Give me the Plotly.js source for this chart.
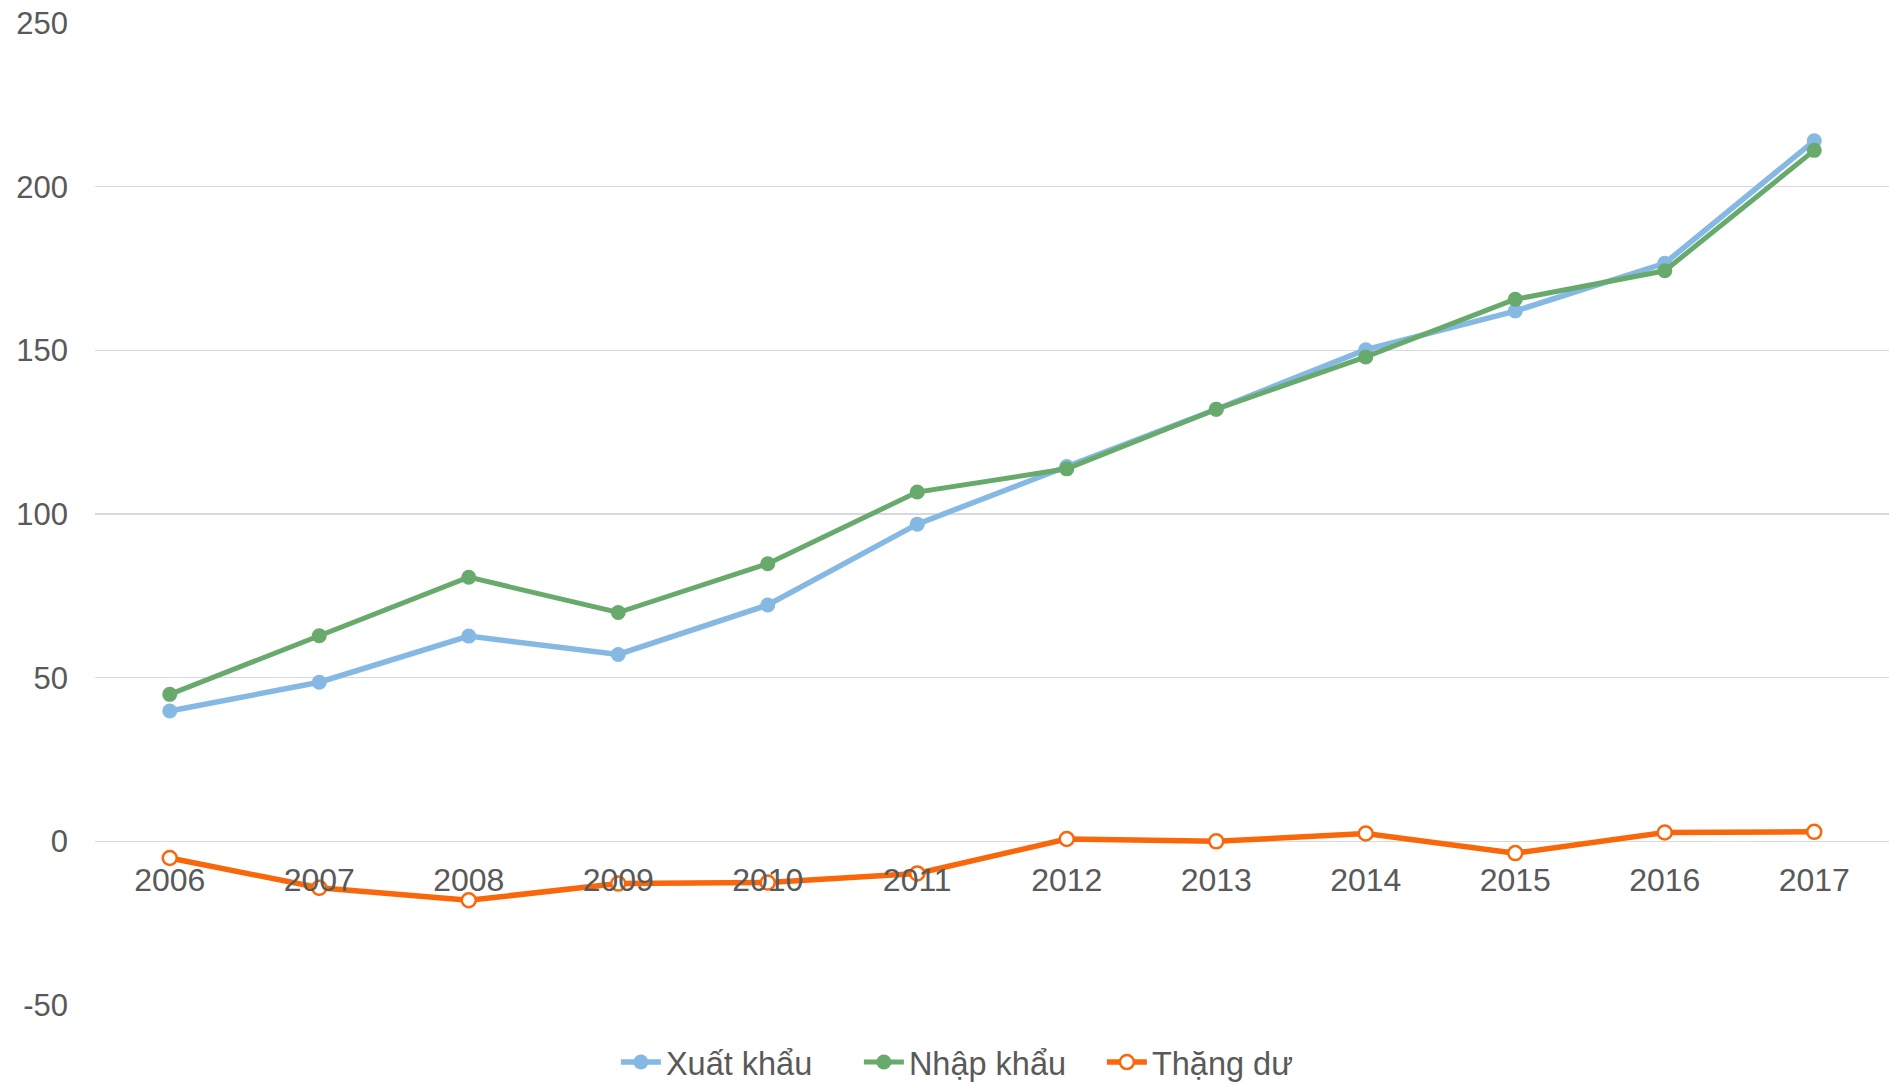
<!DOCTYPE html>
<html>
<head>
<meta charset="utf-8">
<script src="https://cdn.plot.ly/plotly-3.0.1.min.js"></script>
<style>html,body{margin:0;padding:0;background:#fff;}#chart{width:1889px;height:1083px;}</style>
</head>
<body>
<div id="chart"></div>
<script>
const years = ['2006','2007','2008','2009','2010','2011','2012','2013','2014','2015','2016','2017'];
const xuatKhau = [39.8, 48.6, 62.7, 57.1, 72.2, 96.9, 114.5, 132.0, 150.2, 162.0, 176.6, 214.0];
const nhapKhau = [44.9, 62.8, 80.7, 69.9, 84.8, 106.7, 113.8, 132.0, 148.0, 165.6, 174.3, 211.1];
const thangDu = [-5.1, -14.2, -18.0, -12.9, -12.6, -9.8, 0.7, 0.0, 2.4, -3.6, 2.7, 2.9];
const seriesNames = ['Xuất khẩu', 'Nhập khẩu', 'Thặng dư'];
const yTicks = [-50, 0, 50, 100, 150, 200, 250];
const yTickText = ['-50', '0', '50', '100', '150', '200', '250'];

const FONT = 'Liberation Sans, Arial, sans-serif';
const TXT = '#595959';

const traces = [
  {x: years, y: xuatKhau, name: seriesNames[0], type: 'scatter', mode: 'lines+markers',
   line: {color: '#85B9E3', width: 5.5}, marker: {color: '#85B9E3', size: 15}, cliponaxis: false},
  {x: years, y: nhapKhau, name: seriesNames[1], type: 'scatter', mode: 'lines+markers',
   line: {color: '#67AA6C', width: 5}, marker: {color: '#67AA6C', size: 15}, cliponaxis: false},
  {x: years, y: thangDu, name: seriesNames[2], type: 'scatter', mode: 'lines+markers',
   line: {color: '#FA660A', width: 5.5}, marker: {color: '#FFFFFF', size: 14, line: {color: '#FA660A', width: 2.5}}, cliponaxis: false}
];

const layout = {
  width: 1889, height: 1083,
  margin: {l: 95, r: 0, t: 23, b: 78},
  paper_bgcolor: '#fff', plot_bgcolor: '#fff',
  font: {family: FONT, color: TXT, size: 31},
  showlegend: true,
  legend: {orientation: 'h', x: 0.519, xref: 'container', xanchor: 'center',
           y: 0.019, yref: 'container', yanchor: 'middle',
           font: {family: FONT, size: 32.5, color: TXT}, itemwidth: 40, entrywidth: 188, tracegroupgap: 0},
  xaxis: {type: 'category', range: [-0.5, 11.5], anchor: 'free', position: 1/6,
          showgrid: false, zeroline: false, showline: false, ticks: '',
          tickfont: {family: FONT, size: 32, color: TXT}, ticklabelstandoff: 17},
  yaxis: {range: [-50, 250], tickvals: yTicks, ticktext: yTickText, showgrid: true, gridcolor: '#D9D9D9', gridwidth: 1.5,
          zeroline: false, showline: false, ticks: '',
          tickfont: {family: FONT, size: 31, color: TXT}, ticklabelstandoff: 26}
};

Plotly.newPlot('chart', traces, layout, {displayModeBar: false, staticPlot: true});
</script>
</body>
</html>
